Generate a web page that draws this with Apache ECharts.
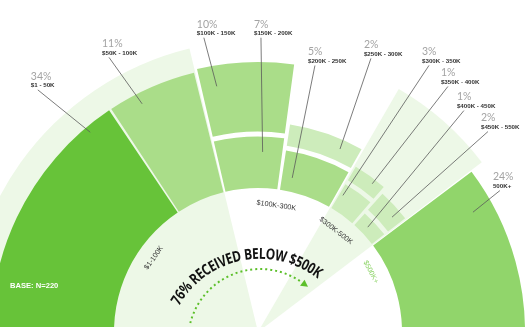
<!DOCTYPE html>
<html>
<head>
<meta charset="utf-8">
<script src="https://cdn.jsdelivr.net/npm/echarts@6/dist/echarts.min.js"></script>
<style>
  html, body { margin: 0; padding: 0; background: #ffffff; }
  #chart { width: 528px; height: 327px; }
</style>
</head>
<body>
<div id="chart"></div>
<script>
// ---- data -------------------------------------------------------------
const groups = ['$1-100K', '$100K-300K', '$300K-500K', '$500K+'];
const brackets = ['$1 - 50K', '$50K - 100K', '$100K - 150K', '$150K - 200K', '$200K - 250K',
  '$250K - 300K', '$300K - 350K', '$350K - 400K', '$400K - 450K', '$450K - 550K', '500K+'];
const shares = [34, 11, 10, 7, 5, 2, 3, 1, 1, 2, 24];
// which group a bracket belongs to, its column inside the group and its stack level
const bracketGroup = [0, 0, 1, 1, 1, 1, 2, 2, 2, 2, 3];
const bracketColumn = [0, 1, 0, 0, 1, 1, 0, 0, 1, 1, 0];
const bracketLevel = [0, 0, 1, 0, 0, 1, 0, 1, 0, 1, 0];
const headline = '76% RECEIVED BELOW $500K';
const baseNote = 'BASE: N=220';

// ---- layout (angle axis in share points, radius axis in ring units) -----
const DEG_PER_PCT = 1.82;
const START_ANGLE = 185.5;
const HOLE = 24;            // inner disc radius
const FULL = 44.5;          // outer radius of single-level blocks
const STACK_EXTRA = 1.6;    // added to every stacked block's depth
const STACK_GAP = 0.8;
const MIN_GROUP_SPAN = 12.5;
const GROUP_BG_OUTER = [48.6, null, 46.8, null];
const GROUP_LABEL_R = 21.3;
const GROUP_LABEL_FRAC = [0.5, 0.5, 0.33, 0.21];
const LABEL_AT = [[29.6, 57.0], [36.85, 54.6], [46.3, 52.3], [52.06, 51.3], [58.03, 47.4], [63.6, 51.0],
  [69.15, 54.1], [71.83, 52.85], [74.59, 51.3], [77.85, 51.5], [83.57, 46.9]];
const LEADER_END = [[0.9, 0.95], [0.33, 0.91], [0.17, 0.7], [0.7, 0.7], [0.18, 0.35], [0.74, 0.56],
  [0.12, 0.61], [0.68, 0.69], [0.42, 0.5], [0.72, 0.56], [0.18, 0.83]];

// ---- styles -------------------------------------------------------------
const blockColors = ['#67c339', '#aadd89', '#aadd89', '#aadd89', '#aadd89', '#cdecbb',
  '#cdecbb', '#cdecbb', '#cdecbb', '#cdecbb', '#91d56b'];
const groupFill = ['#edf8e7', null, '#edf8e7', null];
const groupLabelColor = ['#333333', '#333333', '#333333', '#8fd46a'];

// ---- build block geometry from the shares -------------------------------
const groupSpans = [];
const blocks = [];
(function buildLayout() {
  let cursor = 0;
  groups.forEach((g, gi) => {
    const idx = brackets.map((_, i) => i).filter(i => bracketGroup[i] === gi);
    const total = idx.reduce((s, i) => s + shares[i], 0);
    const span = Math.max(total, MIN_GROUP_SPAN);
    const g0 = cursor, g1 = cursor + span;
    groupSpans.push([g0, g1, gi]);
    const cols = [...new Set(idx.map(i => bracketColumn[i]))];
    const stacked = idx.some(i => bracketLevel[i] > 0);
    const pad = stacked ? 0.3 : 0.15;
    let colStart = g0;
    cols.forEach(c => {
      const members = idx.filter(i => bracketColumn[i] === c)
        .sort((a, b) => bracketLevel[a] - bracketLevel[b]);
      const colTotal = members.reduce((s, i) => s + shares[i], 0);
      const width = stacked ? span / cols.length : span * colTotal / total;
      let r = HOLE;
      members.forEach(i => {
        const depth = stacked ? shares[i] + STACK_EXTRA : FULL - HOLE;
        blocks.push([colStart + pad, colStart + width - pad, r, r + depth, i]);
        r += depth + STACK_GAP;
      });
      colStart += width;
    });
    cursor = g1;
  });
})();

// sector between two angle values and two radius values, through the polar axes
function polarSector(params, api, u0, u1, v0, v1, fill) {
  const cx = params.coordSys.cx, cy = params.coordSys.cy;
  const pOut0 = api.coord([v1, u0]);
  const pOut1 = api.coord([v1, u1]);
  const pIn0 = api.coord([v0, u0]);
  const rOut = Math.hypot(pOut0[0] - cx, pOut0[1] - cy);
  const rIn = Math.hypot(pIn0[0] - cx, pIn0[1] - cy);
  let a0 = Math.atan2(pOut0[1] - cy, pOut0[0] - cx);
  let a1 = Math.atan2(pOut1[1] - cy, pOut1[0] - cx);
  while (a1 < a0) a1 += Math.PI * 2;
  return {
    type: 'sector',
    shape: { cx, cy, r0: rIn, r: rOut, startAngle: a0, endAngle: a1, clockwise: true },
    style: { fill }
  };
}

const chart = echarts.init(document.getElementById('chart'));

// headline set along an arc, one glyph at a time
function arcText(text, font, cx, cy, r, midDeg, spanDeg, color) {
  const ctx = document.createElement('canvas').getContext('2d');
  ctx.font = font;
  const chars = [...text];
  const raw = chars.map(ch => ctx.measureText(ch).width);
  const rawTotal = raw.reduce((a, b) => a + b, 0);
  const sx = (spanDeg * Math.PI / 180 * r) / rawTotal;
  let theta = midDeg * Math.PI / 180 + (rawTotal * sx) / (2 * r);
  return chars.map((ch, k) => {
    const w = raw[k] * sx;
    const t = theta - (w / 2) / r;
    theta -= w / r;
    return {
      type: 'text', z: 10,
      x: cx + r * Math.cos(t), y: cy - r * Math.sin(t),
      rotation: t - Math.PI / 2, scaleX: sx,
      style: { text: ch, font, fill: color, align: 'center', verticalAlign: 'middle' }
    };
  });
}

// dotted arrow running under the headline
function dottedArrow(cx, cy, r, fromDeg, toDeg, color) {
  const rad = Math.PI / 180;
  const t = toDeg * rad;
  const base = [cx + r * Math.cos(t), cy - r * Math.sin(t)];
  const tan = [Math.sin(t), Math.cos(t)];
  const nor = [Math.cos(t), -Math.sin(t)];
  const tip = [base[0] + 7 * tan[0], base[1] + 7 * tan[1]];
  return [
    {
      type: 'arc', z: 10,
      shape: { cx, cy, r, startAngle: -fromDeg * rad, endAngle: -(toDeg + 1.5) * rad, clockwise: true },
      style: { stroke: color, lineWidth: 2, lineDash: [2, 3], fill: null }
    },
    {
      type: 'polygon', z: 10,
      shape: { points: [tip, [base[0] + 3.8 * nor[0], base[1] + 3.8 * nor[1]], [base[0] - 3.8 * nor[0], base[1] - 3.8 * nor[1]]] },
      style: { fill: color }
    }
  ];
}

const option = {
  animation: false,
  backgroundColor: '#ffffff',
  polar: { center: [258, 332], radius: [0, 300] },
  angleAxis: {
    type: 'value', min: 0, max: 360 / DEG_PER_PCT, startAngle: START_ANGLE, clockwise: true, show: false
  },
  radiusAxis: { type: 'value', min: 0, max: 50, show: false },
  series: [
    {
      // group backdrops and the inner group names
      type: 'custom', coordinateSystem: 'polar', z: 1, silent: true,
      data: groupSpans,
      renderItem(params, api) {
        const [g0, g1, gi] = groupSpans[params.dataIndex];
        const children = [];
        if (groupFill[gi]) {
          children.push(polarSector(params, api, g0, g1, 0, GROUP_BG_OUTER[gi], groupFill[gi]));
        }
        const cx = params.coordSys.cx, cy = params.coordSys.cy;
        const p = api.coord([GROUP_LABEL_R, g0 + GROUP_LABEL_FRAC[gi] * (g1 - g0)]);
        const theta = -Math.atan2(p[1] - cy, p[0] - cx);
        children.push({
          type: 'text', x: p[0], y: p[1], rotation: theta - Math.PI / 2,
          style: {
            text: groups[gi], fill: groupLabelColor[gi], align: 'center', verticalAlign: 'middle',
            font: '7.2px "Liberation Sans", Arial, sans-serif'
          }
        });
        return { type: 'group', children };
      }
    },
    {
      // one sector per bracket
      type: 'custom', coordinateSystem: 'polar', z: 2, silent: true,
      data: blocks,
      renderItem(params, api) {
        const [u0, u1, v0, v1, i] = blocks[params.dataIndex];
        return polarSector(params, api, u0, u1, v0, v1, blockColors[i]);
      }
    },
    {
      // share, bracket name and leader line
      type: 'custom', coordinateSystem: 'polar', z: 3, silent: true,
      data: blocks,
      renderItem(params, api) {
        const [u0, u1, v0, v1, i] = blocks[params.dataIndex];
        const at = api.coord([LABEL_AT[i][1], LABEL_AT[i][0]]);
        const fe = LEADER_END[i];
        const end = api.coord([v0 + fe[1] * (v1 - v0), u0 + fe[0] * (u1 - u0)]);
        return {
          type: 'group',
          children: [
            {
              type: 'line',
              shape: { x1: at[0] + 7, y1: at[1] + 13.5, x2: end[0], y2: end[1] },
              style: { stroke: '#5a5a5a', lineWidth: 0.8 }
            },
            {
              type: 'text', x: at[0], y: at[1],
              style: {
                text: shares[i] + '%', fill: '#a3a3a3', align: 'left', verticalAlign: 'middle',
                font: '10.5px Lato, "Open Sans", sans-serif'
              }
            },
            {
              type: 'text', x: at[0], y: at[1] + 9,
              style: {
                text: brackets[i], fill: '#333333', align: 'left', verticalAlign: 'middle',
                font: 'bold 6.2px "Liberation Sans", Arial, sans-serif'
              }
            }
          ]
        };
      }
    }
  ],
  graphic: [
    ...arcText(headline, 'bold 15px "Open Sans", sans-serif', 260, 352, 97.5, 101.05, 98.5, '#111111'),
    ...dottedArrow(260, 341, 72, 165.6, 54, '#5cbf2a'),
    {
      type: 'text', z: 10, x: 10, y: 286,
      style: {
        text: baseNote, fill: '#ffffff', align: 'left', verticalAlign: 'middle',
        font: 'bold 7.6px "Liberation Sans", Arial, sans-serif'
      }
    }
  ]
};

chart.setOption(option);
</script>
</body>
</html>
